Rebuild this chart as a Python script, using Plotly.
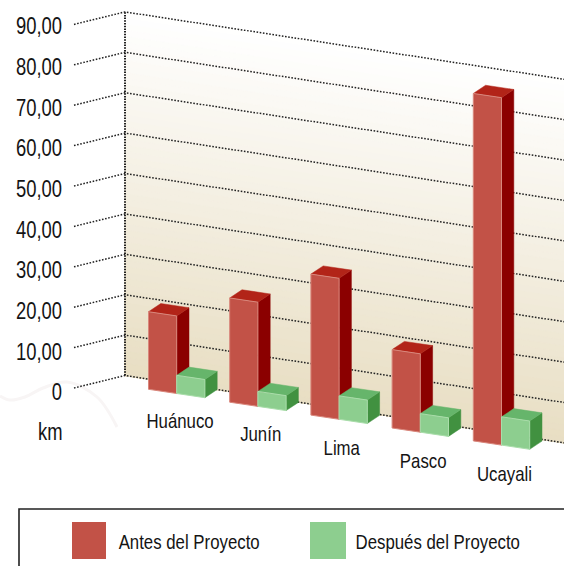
import plotly.graph_objects as go

# ---- data ----
categories = ["Huánuco", "Junín", "Lima", "Pasco", "Ucayali"]
antes = [19.2, 25.8, 34.9, 19.4, 86.0]
despues = [4.5, 3.7, 5.8, 4.6, 7.0]
axis_values = [0, 10, 20, 30, 40, 50, 60, 70, 80, 90]
axis_labels = ["0", "10,00", "20,00", "30,00", "40,00", "50,00", "60,00", "70,00", "80,00", "90,00"]
unit_label = "km"
series_names = ["Antes del Proyecto", "Después del Proyecto"]

# ---- oblique projection (screen pixels) ----
W, H = 564, 566
PX_PER_UNIT = 4.04
BASE_Y = 388.0          # pixel y of value 0 at front of left wall


def Y(p):
    """screen pixel y -> value-axis coordinate"""
    return (BASE_Y - p) / PX_PER_UNIT


WALL_X0, WALL_Y0 = 125.0, 375.5
WALL_SLOPE = 0.1534
LEFT_X0 = 74.0
BAR_X0, BAR_Y0 = 148.5, 389.3
BAR_STEP_X, BAR_STEP_Y = 81.2, 12.9
BAR_W, BAR_RISE = 28.2, 4.2
DEPTH_X, DEPTH_Y = 12.3, -8.2

RED = dict(front="#C25247", top="#B22418", side="#8B0000", edge="#D9877C")
GREEN = dict(front="#8DCE8F", top="#66B56B", side="#419140", edge="#A9DDAA")

fig = go.Figure()


def poly(pts, color, edge=None, width=0):
    xs = [p[0] for p in pts] + [pts[0][0]]
    ys = [Y(p[1]) for p in pts] + [Y(pts[0][1])]
    fig.add_trace(go.Scatter(
        x=xs, y=ys, mode="lines", fill="toself", fillcolor=color,
        line=dict(color=edge or color, width=width if edge else 0.5),
        hoverinfo="skip", showlegend=False))


# faint background watermark lines
for xs, ps in [([0, 10, 25, 43, 67, 97, 117], [396, 400, 397, 388, 382, 397, 427])]:
    fig.add_trace(go.Scatter(x=xs, y=[Y(p) for p in ps], mode="lines",
                             line=dict(color="#F8F5F5", width=3, shape="spline"),
                             hoverinfo="skip", showlegend=False))

# wall gradient, sheared along the wall: bands overlapping downward
N = 60
TOP_RGB, BOT_RGB = (255, 255, 255), (232, 222, 195)
wall_right = W + 2
dy_right = (wall_right - WALL_X0) * WALL_SLOPE
for k in range(N):
    t = k / N
    c = tuple(round(a + (b - a) * (t + 0.5 / N)) for a, b in zip(TOP_RGB, BOT_RGB))
    top = 90 * (1 - t)
    p = WALL_Y0 - top * PX_PER_UNIT
    poly([(WALL_X0, p), (wall_right, p + dy_right),
          (wall_right, WALL_Y0 + dy_right), (WALL_X0, WALL_Y0)],
         "rgb(%d,%d,%d)" % c)

# gridlines
DOT = dict(color="#222222", width=1.5, dash="1.6px,1.6px")
for v in axis_values:
    p = WALL_Y0 - v * PX_PER_UNIT
    fig.add_trace(go.Scatter(
        x=[LEFT_X0, WALL_X0, wall_right],
        y=[Y(BASE_Y - v * PX_PER_UNIT), Y(p), Y(p + dy_right)],
        mode="lines", line=DOT, hoverinfo="skip", showlegend=False))
fig.add_trace(go.Scatter(
    x=[WALL_X0, WALL_X0], y=[Y(WALL_Y0), Y(WALL_Y0 - 90 * PX_PER_UNIT)],
    mode="lines", line=dict(color="#222222", width=2, dash="1.5px,1.2px"),
    hoverinfo="skip", showlegend=False))


def bar(x, yb, value, st):
    h = value * PX_PER_UNIT
    fl_b, fl_t = (x, yb), (x, yb - h)
    fr_b, fr_t = (x + BAR_W, yb + BAR_RISE), (x + BAR_W, yb + BAR_RISE - h)
    d = (DEPTH_X, DEPTH_Y)
    shift = lambda q: (q[0] + d[0], q[1] + d[1])
    poly([fr_b, fr_t, shift(fr_t), shift(fr_b)], st["side"])
    poly([fl_t, fr_t, shift(fr_t), shift(fl_t)], st["top"])
    poly([fl_b, fl_t, fr_t, fr_b], st["front"], st["edge"], 1)


for i, cat in enumerate(categories):
    x = BAR_X0 + i * BAR_STEP_X
    yb = BAR_Y0 + i * BAR_STEP_Y
    bar(x, yb, antes[i], RED)
    bar(x + BAR_W, yb + BAR_RISE, despues[i], GREEN)
    fig.add_annotation(x=179.5 + i * 81.2, y=Y(420.5 + i * 13.3), text=cat, showarrow=False,
                       xref="x", yref="y", font=dict(size=21), xanchor="center", yanchor="middle")

fig.add_annotation(x=50, y=Y(432), text=unit_label, showarrow=False, xref="x", yref="y",
                   xanchor="center", yanchor="middle", font=dict(size=23))

# legend box and swatches
shapes = [dict(type="rect", xref="x", yref="y", x0=19, x1=W + 10, y0=Y(509), y1=Y(H + 10),
               line=dict(color="#222222", width=1.6), fillcolor="rgba(0,0,0,0)")]
LEG = [(72, 106, 188.5, RED["front"], series_names[0]), (310, 346, 437, GREEN["front"], series_names[1])]
for a, b, tx, col, name in LEG:
    shapes.append(dict(type="rect", xref="x", yref="y", x0=a, x1=b, y0=Y(522), y1=Y(559),
                       line=dict(width=0), fillcolor=col))
    fig.add_annotation(x=tx, y=Y(541), text=name, showarrow=False, xref="x", yref="y",
                       xanchor="center", yanchor="middle", font=dict(size=21))

# hidden trace holding the tick-label axis
fig.add_trace(go.Scatter(x=[66], y=[0], yaxis="y2", mode="markers", marker=dict(opacity=0),
                         hoverinfo="skip", showlegend=False))

LABEL_BASE, LABEL_STEP = 392.2, 4.067
fig.update_layout(
    width=W, height=H, margin=dict(l=0, r=0, t=0, b=0),
    paper_bgcolor="white", plot_bgcolor="rgba(0,0,0,0)",
    showlegend=False, shapes=shapes,
    font=dict(family="Liberation Sans, Arial, sans-serif", color="#141414"),
    xaxis=dict(range=[0, W], visible=False, domain=[0, 1]),
    yaxis=dict(range=[Y(H), Y(0)], visible=False),
    yaxis2=dict(range=[(LABEL_BASE - H) / LABEL_STEP, LABEL_BASE / LABEL_STEP],
                overlaying="y", side="left", anchor="free", position=62 / W,
                tickvals=axis_values, ticktext=axis_labels, ticks="",
                showgrid=False, zeroline=False, showline=False,
                tickfont=dict(size=23)),
)

# condensed look: no narrow face is installed, so tighten the real text horizontally
NARROW_JS = """
document.body.style.margin='0';document.body.style.overflow='hidden';
function narrowText(){
  document.querySelectorAll('svg text').forEach(function(t){
    if(!t.textContent.trim()||t.getAttribute('textLength'))return;
    var L=t.getComputedTextLength();
    if(L>0){t.setAttribute('textLength',L*0.8);t.setAttribute('lengthAdjust','spacingAndGlyphs');}
  });
}
narrowText();setTimeout(narrowText,50);setTimeout(narrowText,300);
"""
fig.write_html("out.html", config=dict(displayModeBar=False), post_script=NARROW_JS)
